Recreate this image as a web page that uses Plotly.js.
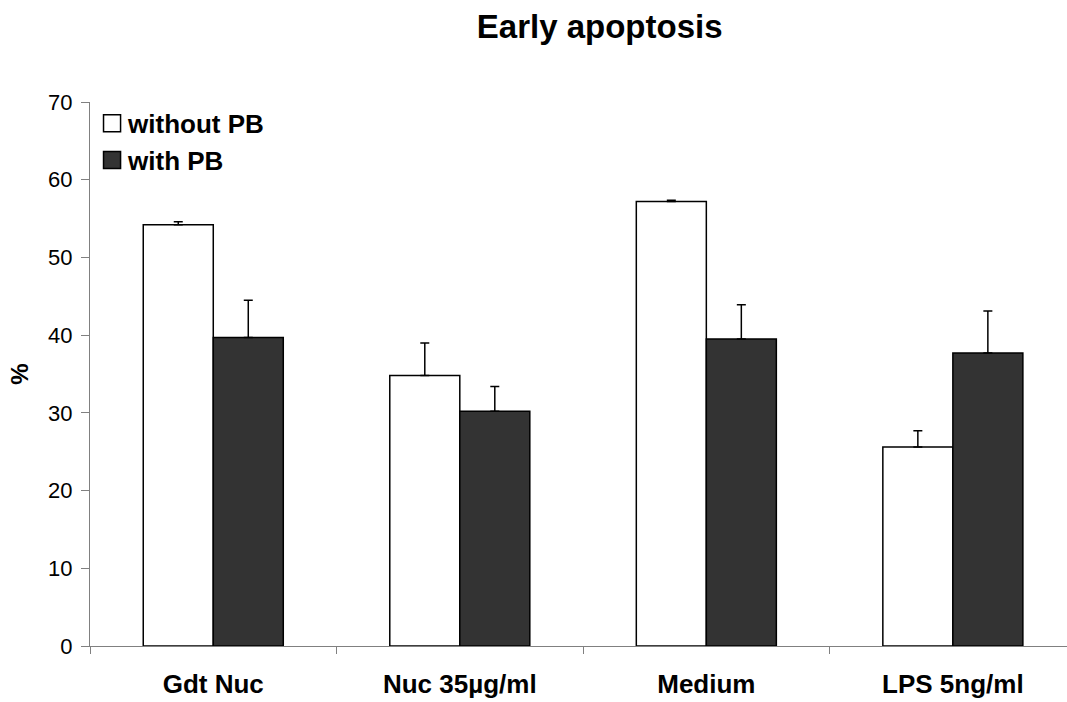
<!DOCTYPE html>
<html>
<head>
<meta charset="utf-8">
<script src="https://cdn.plot.ly/plotly-3.0.1.min.js"></script>
<style>
  html, body { margin: 0; padding: 0; background: #ffffff; }
  #chart { width: 1067px; height: 702px; }
  .legend .legendpoints path { vector-effect: non-scaling-stroke; }
</style>
</head>
<body>
<div id="chart"></div>
<script>
// Treatment groups along the x axis
const categories = ["Gdt Nuc", "Nuc 35µg/ml", "Medium", "LPS 5ng/ml"];

// Early apoptosis (%) and the upper error of each bar
const withoutPB = [54.2, 34.8, 57.2, 25.6];
const withoutPBErr = [0.4, 4.2, 0.15, 2.1];
const withPB = [39.7, 30.2, 39.5, 37.7];
const withPBErr = [4.8, 3.2, 4.4, 5.4];

const seriesNames = ["without PB", "with PB"];
const yTicks = [0, 10, 20, 30, 40, 50, 60, 70];

const FONT = "Liberation Sans, Arial, Helvetica, sans-serif";

function errorBars(values) {
  return {
    type: "data",
    symmetric: false,
    array: values,
    arrayminus: values.map(() => 0),
    color: "#000000",
    thickness: 1.5,
    width: 4.5
  };
}

const traces = [
  {
    type: "bar",
    name: seriesNames[0],
    x: categories,
    y: withoutPB,
    marker: { color: "#ffffff", line: { color: "#000000", width: 1.5 } },
    error_y: errorBars(withoutPBErr),
    hoverinfo: "x+y+name"
  },
  {
    type: "bar",
    name: seriesNames[1],
    x: categories,
    y: withPB,
    marker: { color: "#333333", line: { color: "#000000", width: 1.5 } },
    error_y: errorBars(withPBErr),
    hoverinfo: "x+y+name"
  }
];

const layout = {
  width: 1067,
  height: 702,
  paper_bgcolor: "#ffffff",
  plot_bgcolor: "#ffffff",
  margin: { l: 90, r: 0, t: 102, b: 56 },
  font: { family: FONT, color: "#000000" },
  title: {
    text: "<b>Early apoptosis</b>",
    font: { family: FONT, size: 33, color: "#000000" },
    xref: "container",
    yref: "container",
    x: 0.562,
    xanchor: "center",
    y: 0.963,
    yanchor: "middle"
  },
  barmode: "group",
  bargap: 0.432,
  bargroupgap: 0,
  showlegend: true,
  legend: {
    x: -0.002,
    xanchor: "left",
    y: 1.004,
    yanchor: "top",
    bgcolor: "rgba(0,0,0,0)",
    font: { family: FONT, size: 26, color: "#000000", weight: "bold" },
    traceorder: "normal",
    itemclick: false,
    itemdoubleclick: false
  },
  xaxis: {
    type: "category",
    range: [-0.5, 3.463],
    showline: true,
    linecolor: "#808080",
    linewidth: 1,
    showgrid: false,
    zeroline: false,
    ticks: "outside",
    tickson: "boundaries",
    ticklen: 7,
    tickcolor: "#808080",
    tickwidth: 1,
    ticklabelstandoff: 15,
    tickfont: { family: FONT, size: 26, color: "#000000", weight: "bold" },
    fixedrange: true
  },
  yaxis: {
    range: [0, 70],
    tickvals: yTicks,
    ticktext: yTicks.map(String),
    showline: true,
    linecolor: "#808080",
    linewidth: 1,
    showgrid: false,
    zeroline: false,
    ticks: "outside",
    ticklen: 8,
    tickcolor: "#808080",
    tickwidth: 1,
    ticklabelstandoff: 4,
    tickfont: { family: FONT, size: 22, color: "#000000" },
    title: {
      text: "<b>%</b>",
      font: { family: FONT, size: 24, color: "#000000" },
      standoff: 12
    },
    fixedrange: true
  }
};

Plotly.newPlot("chart", traces, layout, { displayModeBar: false }).then(() => {
  // Larger square swatches in the legend, kept at their own position
  document.querySelectorAll(".legend .legendpoints path").forEach(p => {
    const base = p.getAttribute("transform") || "";
    p.setAttribute("transform", base + " translate(4,0) scale(1.42)");
  });
});
</script>
</body>
</html>
